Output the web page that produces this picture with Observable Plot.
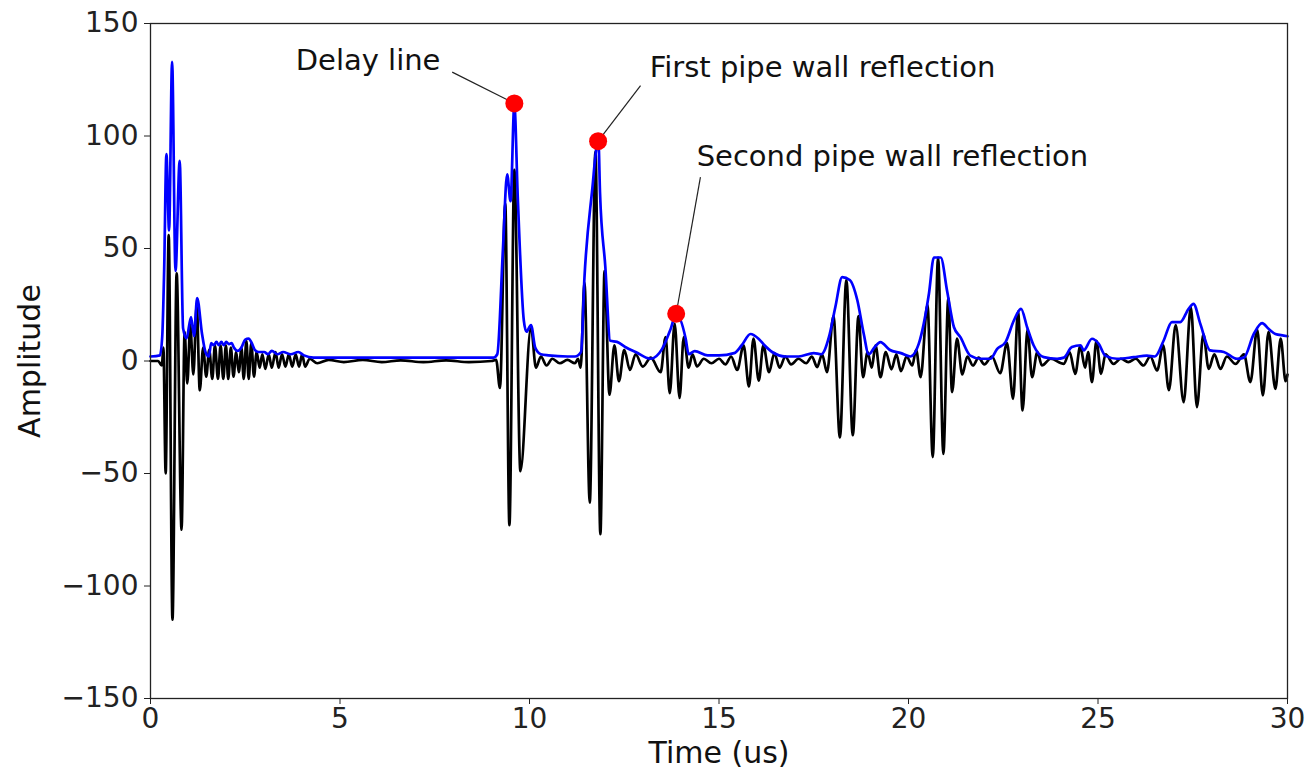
<!DOCTYPE html>
<html>
<head>
<meta charset="utf-8">
<script src="https://cdn.jsdelivr.net/npm/d3@7"></script>
<script src="https://cdn.jsdelivr.net/npm/@observablehq/plot@0.6"></script>
<style>
  html, body { margin: 0; padding: 0; background: #fff; }
  #chart { width: 1307px; height: 774px; }
</style>
</head>
<body>
<div id="chart"></div>
<script>
// Raw ultrasonic signal, [time (us), amplitude] (peaks/troughs)
const signal = [
  [0,0],[0.2,0],[0.3,-2],[0.34,6],[0.40,-50],[0.48,56],[0.58,-115],[0.69,39],[0.82,-75],
  [0.9,13],[0.97,-10],[1.05,16],[1.13,-6],[1.22,25],[1.30,-13],[1.39,6],[1.47,-7],[1.55,5],
  [1.63,-8],[1.70,7],[1.78,-8],[1.85,7],[1.92,-8],[1.99,7],[2.05,-8],[2.12,6],[2.19,-7],
  [2.26,4],[2.33,-5],[2.40,6],[2.46,-8],[2.53,9],[2.59,-8],[2.66,8],[2.73,-7],[2.8,4],
  [2.88,-3],[2.95,3],[3.03,-3.5],[3.12,3],[3.2,-3],[3.3,4],[3.38,-3],[3.47,3],[3.56,-2.5],
  [3.65,3],[3.74,-2.5],[3.83,3],[3.92,-2.5],[4.0,3],[4.08,-2.5],[4.2,1],[4.4,-1],[4.7,0.5],
  [5.1,-0.5],[5.6,0.5],[6.1,-0.5],[6.6,0.3],[7.2,-0.5],[7.8,0.3],[8.4,-0.5],[9.0,0],[9.12,0.5],
  [9.22,-12],[9.36,70],[9.47,-73],[9.6,85],[9.76,-49],[10.04,15],[10.17,-3],[10.3,2],
  [10.45,-2],[10.6,1],[10.8,-1],[11.0,0.5],[11.2,-1],[11.28,1],[11.35,-3],[11.45,35],
  [11.59,-63],[11.74,93],[11.87,-77],[11.98,40],[12.11,-15],[12.24,7],[12.36,-9],[12.5,5],
  [12.65,-4],[12.8,3],[12.99,-2.5],[13.2,1.5],[13.46,-5],[13.59,10.6],[13.70,-14.3],
  [13.83,16.6],[13.96,-16.4],[14.07,10.6],[14.2,-3],[14.3,3],[14.42,-2.4],[14.6,1],[14.8,-1],
  [15.0,1],[15.17,-1.5],[15.32,2],[15.48,-4],[15.65,7],[15.79,-11.3],[15.91,10],[16.05,-8.7],
  [16.17,7],[16.32,-5],[16.46,3.5],[16.6,-3],[16.75,2],[16.9,-1.5],[17.1,1],[17.3,-1],
  [17.45,2],[17.59,-2.7],[17.72,3],[17.85,-5],[18.02,20],[18.19,-34],[18.36,36],[18.53,-33],
  [18.68,20],[18.8,-7.2],[18.92,4],[19.03,-3],[19.13,7],[19.26,-7.2],[19.4,4],[19.55,-3.7],
  [19.68,3],[19.8,-4.5],[19.95,2],[20.1,-2],[20.2,5],[20.32,-7.2],[20.5,25],[20.64,-42.7],
  [20.78,46],[20.92,-41.3],[21.05,28],[21.15,-13.8],[21.28,10],[21.42,-6],[21.55,2],
  [21.7,-2],[21.85,1.5],[22.0,-1.5],[22.2,2],[22.42,-5.4],[22.6,8],[22.76,-16.8],[22.89,22],
  [23.01,-22],[23.14,14],[23.26,-7.2],[23.4,4],[23.52,-2],[23.75,1],[24.1,-1.3],[24.25,4],
  [24.4,-5.7],[24.53,6.5],[24.66,-3],[24.74,4],[24.84,-9.4],[24.96,9],[25.08,-5.7],[25.2,3],
  [25.41,-1.3],[25.6,1],[25.8,-0.5],[26.0,1],[26.2,-2],[26.38,2],[26.56,-4.2],[26.72,7],
  [26.87,-13],[27.05,16],[27.26,-18.3],[27.45,24],[27.61,-20.5],[27.78,12],[27.92,-3.5],
  [28.07,3],[28.23,-3.5],[28.4,2],[28.63,-1.3],[28.85,3],[29.02,-9.4],[29.2,14],[29.35,-15.3],
  [29.5,13],[29.68,-12.4],[29.82,10],[29.95,-9],[30,-6]
];

// Envelope (blue), [time (us), amplitude]
const envelope = [
  [0,2],[0.25,2.5],[0.31,11],[0.36,40],[0.42,92],[0.49,58],[0.57,133],[0.66,40],[0.77,89],
  [0.86,14.5],[0.95,10],[1.07,19.5],[1.15,11],[1.23,28],[1.36,12],[1.45,4],[1.54,2],[1.6,8],
  [1.67,7],[1.74,8.5],[1.8,7],[1.87,8.5],[1.93,7],[2.0,8.5],[2.07,7.5],[2.14,8],[2.2,6],
  [2.3,4.5],[2.4,6],[2.5,9.5],[2.59,10],[2.67,8],[2.75,5],[2.85,4],[3.0,4],[3.1,3],[3.2,4.5],
  [3.35,3],[3.5,4],[3.7,3],[3.9,4],[4.05,2.5],[4.3,1.5],[5,1.5],[6,1.5],[7,1.5],[8,1.5],
  [9.05,1.5],[9.15,3],[9.3,50],[9.41,83],[9.5,71],[9.6,114],[9.69,73],[9.85,18],[9.92,13],
  [10.04,16],[10.15,6],[10.3,3],[10.5,2.5],[11.0,2],[11.2,2],[11.36,4],[11.45,37],[11.66,77],
  [11.77,95],[11.82,97],[11.86,75],[12.0,42],[12.13,9],[12.31,8.5],[12.55,6],[12.8,4],
  [13.19,1],[13.5,5.4],[13.73,14.5],[13.87,21],[14.12,10],[14.2,3],[14.36,4.4],[14.7,2.5],
  [15.0,2.5],[15.4,3.5],[15.6,7],[15.83,12],[16.05,9.8],[16.2,7],[16.4,4],[16.76,2],[17.1,2],
  [17.5,3.5],[17.7,3],[17.9,10.6],[18.07,24],[18.25,37.3],[18.45,36],[18.65,27],[18.82,12],
  [18.95,3],[19.1,6],[19.26,8.4],[19.5,5],[19.8,3.5],[20.05,2],[20.27,7.6],[20.54,30],
  [20.67,46],[20.85,46],[21.02,31],[21.2,15],[21.37,10.6],[21.63,2.4],[21.9,1],[22.16,1],
  [22.34,5.4],[22.56,8.4],[22.78,18],[22.97,23.2],[23.13,15],[23.3,7],[23.57,1.7],[23.92,1],
  [24.1,1.5],[24.31,6.2],[24.54,7],[24.62,4.7],[24.84,9.9],[25.02,7.6],[25.19,2.4],[25.5,1],
  [25.94,1.7],[26.29,2.4],[26.5,2],[26.73,9],[26.95,17.3],[27.17,17.3],[27.39,23.2],
  [27.52,25.4],[27.7,16.5],[27.96,4.7],[28.32,4],[28.67,1],[28.85,1.5],[29.11,12],[29.33,16.8],
  [29.5,14.3],[29.68,12],[29.9,11.3],[30,11]
];

// Marked echoes
const markerTime = [9.6, 11.81, 13.87];
const markerAmp = [114.5, 97.7, 21];

// Annotation labels and leader lines
const labelText = ["Delay line", "First pipe wall reflection", "Second pipe wall reflection"];
const labelTime = [7.65, 13.17, 14.41];
const labelAmp = [133.6, 130.4, 90.6];
const labelAnchor = ["end", "start", "start"];
const leaderStartTime = [7.96, 12.93, 14.51];
const leaderStartAmp = [128.4, 122.4, 81.7];

const xTicks = [0, 5, 10, 15, 20, 25, 30];
const yTicks = [-150, -100, -50, 0, 50, 100, 150];

const sig = signal.map(([t, v]) => ({t, v}));
const env = envelope.map(([t, v]) => ({t, v}));
const markers = markerTime.map((t, i) => ({t, v: markerAmp[i]}));
const labels = labelText.map((s, i) => ({text: s, t: labelTime[i], v: labelAmp[i], anchor: labelAnchor[i]}));
const leaders = labelText.map((s, i) => ({x1: leaderStartTime[i], y1: leaderStartAmp[i], x2: markerTime[i], y2: markerAmp[i]}));

const font = "'DejaVu Sans', Verdana, sans-serif";

const chart = Plot.plot({
  width: 1307,
  height: 774,
  marginLeft: 150,
  marginRight: 20,
  marginTop: 23,
  marginBottom: 76,
  style: {fontFamily: font, fontSize: "28px", color: "#222", background: "#fff"},
  x: {domain: [0, 30]},
  y: {domain: [-150, 150]},
  marks: [
    Plot.line(sig, {x: "t", y: "v", stroke: "#000", strokeWidth: 2.7, curve: "monotone-x"}),
    Plot.line(env, {x: "t", y: "v", stroke: "#0000ff", strokeWidth: 2.7, curve: "monotone-x"}),
    Plot.link(leaders, {x1: "x1", y1: "y1", x2: "x2", y2: "y2", stroke: "#222", strokeWidth: 1.2}),
    Plot.dot(markers, {x: "t", y: "v", r: 9, fill: "#ff0000", stroke: "none"}),
    Plot.text(labels.filter(d => d.anchor === "end"), {x: "t", y: "v", text: "text", textAnchor: "end", fontSize: 29, fill: "#111"}),
    Plot.text(labels.filter(d => d.anchor === "start"), {x: "t", y: "v", text: "text", textAnchor: "start", fontSize: 29, fill: "#111"}),
    Plot.frame({stroke: "#222", strokeWidth: 1.3}),
    Plot.axisX({ticks: xTicks, tickSize: 6, tickPadding: 4, label: null, fontSize: 28}),
    Plot.axisY({ticks: yTicks, tickSize: 6, tickPadding: 6, label: null, fontSize: 28}),
    Plot.text(["Time (us)"], {frameAnchor: "bottom", dy: 64, fontSize: 30, fill: "#111", textAnchor: "middle"}),
    Plot.text(["Amplitude"], {frameAnchor: "left", dx: -120, rotate: -90, fontSize: 30, fill: "#111", textAnchor: "middle"})
  ]
});
document.getElementById("chart").appendChild(chart);
</script>
</body>
</html>
